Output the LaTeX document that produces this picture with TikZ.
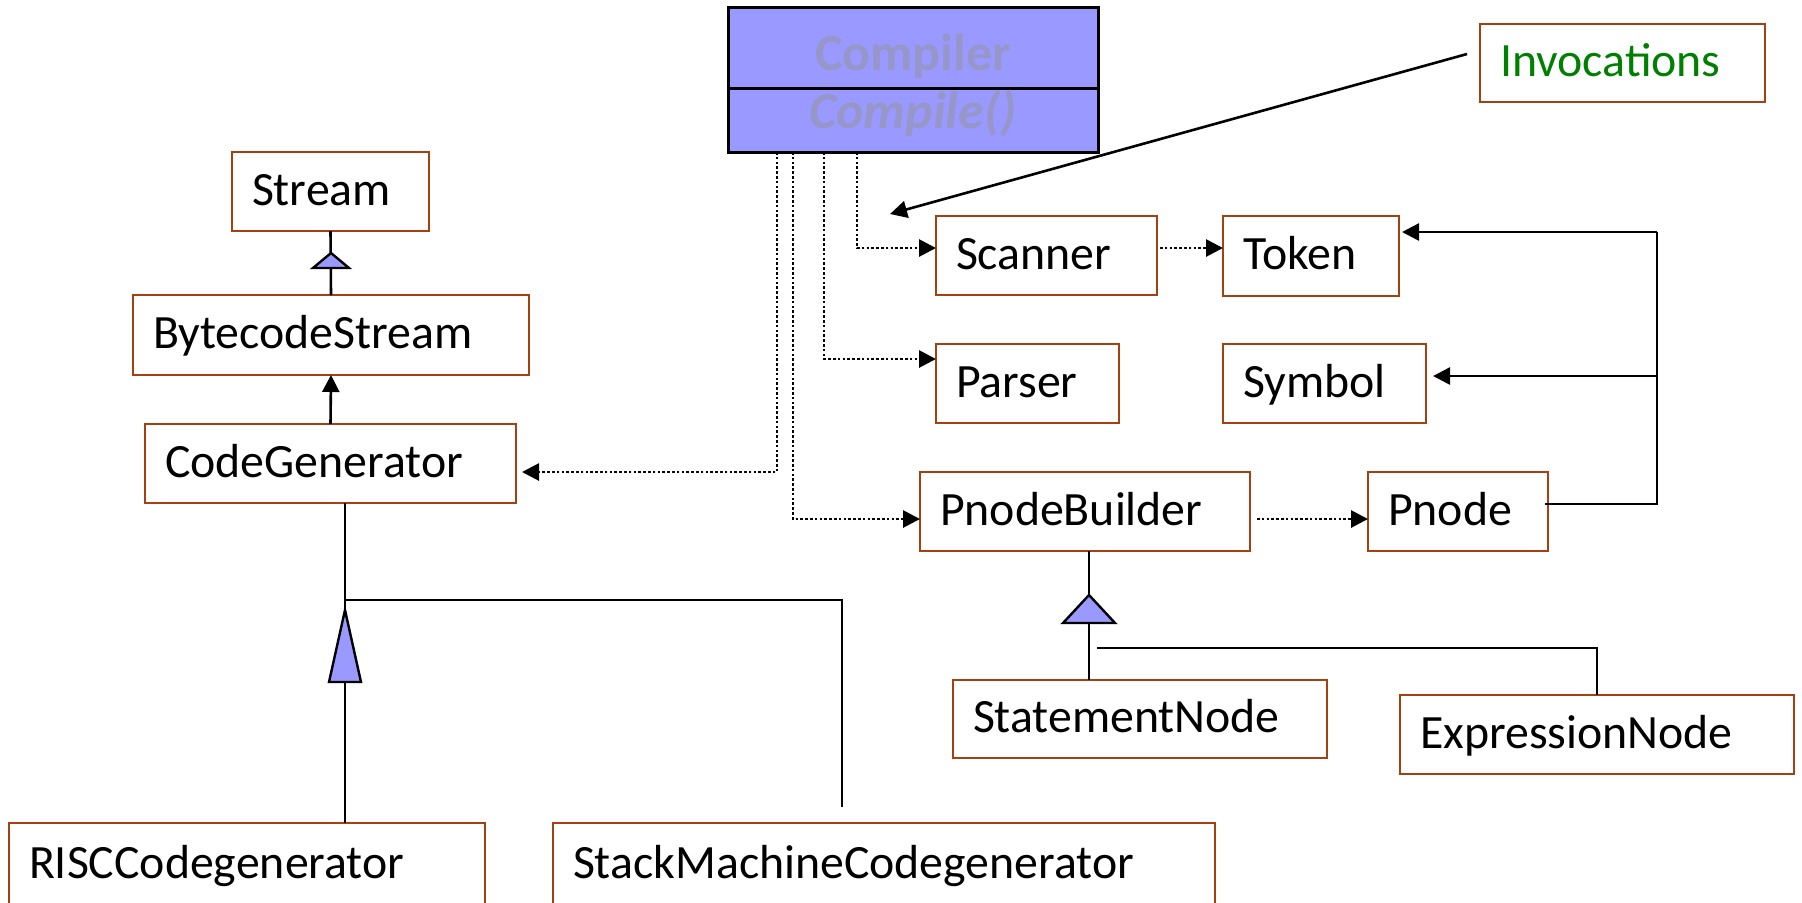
\documentclass[tikz,border=0pt]{standalone}
\usepackage{fontspec}
\setmainfont{Carlito}
\usetikzlibrary{arrows.meta,calc}
\definecolor{boxline}{RGB}{165,64,16}
\definecolor{umlfill}{RGB}{153,153,255}
\definecolor{ghost}{RGB}{150,150,200}
\definecolor{notegreen}{RGB}{0,128,0}
\tikzset{
  classbox/.style={draw=boxline, line width=1.2pt, fill=white, inner xsep=10pt, inner ysep=0pt,
    outer sep=0pt, align=left, text height=17pt, text depth=3.5pt,
    font=\fontsize{23.9}{28}\selectfont},
  link/.style={line width=1.3pt, black},
  tip/.style={-{Triangle[length=8.5pt,width=8.5pt]}},
  dep/.style={line width=1.4pt, black, dash pattern=on 1.3pt off 1.1pt, -{Triangle[length=8.5pt,width=8.5pt]}},
  gen/.style={fill=umlfill, draw=black, line width=1.2pt, line join=miter},
  ghosttext/.style={text=ghost, inner sep=0pt, font=\fontsize{26}{30}\selectfont\bfseries},
}
% class box given by its corners in pixel units: name, x1, y1, x2, y2, label
\newcommand\classnode[6]{%
  \pgfmathsetmacro\cbw{(#4-#2)*0.5-20}%
  \pgfmathsetmacro\cbh{(#5-#3)*0.5}%
  \node[classbox, text width=\cbw pt, minimum height=\cbh pt, anchor=north west] (#1) at (#2,#3) {#6};}
% generalisation triangle: apex x, apex y, half width, height
\newcommand\gentri[4]{%
  \draw[gen] (#1,#2) -- (#1-#3,#2+#4) -- (#1+#3,#2+#4) -- cycle;}

\begin{document}
\begin{tikzpicture}[x=0.5pt,y=-0.5pt]
\useasboundingbox (0,0) rectangle (1802,902);

% ---------- Compiler class ----------
\node[draw=black, line width=1.5pt, fill=umlfill, minimum width=185pt, minimum height=72.5pt,
      anchor=north west, inner sep=0pt, outer sep=0pt] (compiler) at (728,7) {};
\draw[line width=1.5pt] (compiler.west |- 0,88) -- (compiler.east |- 0,88);
\node[ghosttext, anchor=base] (cname) at (913,70) {Compiler};
\node[ghosttext, anchor=base] (cop) at (913,128) {\itshape Compile()};

% ---------- classes ----------
\classnode{stream}{232}{152}{429}{231}{Stream}
\classnode{bytecode}{133}{295}{529}{375}{BytecodeStream}
\classnode{codegen}{145}{424}{516}{503}{CodeGenerator}
\classnode{risc}{9}{823}{485}{906}{RISCCodegenerator}
\classnode{stack}{553}{823}{1215}{906}{StackMachineCodegenerator}
\classnode{scanner}{936}{216}{1157}{295}{Scanner}
\classnode{parser}{936}{344}{1119}{423}{Parser}
\classnode{pbuilder}{920}{472}{1250}{551}{PnodeBuilder}
\classnode{token}{1223}{216}{1399}{296}{Token}
\classnode{symbol}{1223}{344}{1426}{423}{Symbol}
\classnode{pnode}{1368}{472}{1548}{551}{Pnode}
\classnode{stmt}{953}{680}{1327}{758}{StatementNode}
\classnode{expr}{1400}{695}{1794}{774}{ExpressionNode}
\classnode{invoc}{1480}{24}{1765}{102}{\textcolor{notegreen}{Invocations}}

% ---------- stream hierarchy ----------
\draw[link] (bytecode.north) -- (stream.south);
\gentri{331}{253}{18}{15}
\draw[link, tip] (codegen.north) -- (bytecode.south);

% ---------- code generators ----------
\coordinate (cgfork) at (345,600);
\coordinate (smend) at (842,807);
\draw[link] (codegen.south -| cgfork) -- (risc.north -| cgfork);
\draw[link] (cgfork) -| (smend);
\gentri{345}{610}{16}{72}

% ---------- parse-tree nodes ----------
\coordinate (pbx) at (1089,0);
\coordinate (pbfork) at (1097,648);
\draw[link] (pbuilder.south -| pbx) -- (stmt.north -| pbx);
\draw[link] (pbfork) -| (expr.north);
\gentri{1089}{595}{26}{28}

% ---------- uses of the compiler ----------
\coordinate (t1) at (777,152);
\coordinate (t2) at (793,152);
\coordinate (t3) at (824,152);
\coordinate (t4) at (857,152);
\draw[dep] (t4) |- ($(scanner.west)+(0,-7.5)$);
\draw[dep] (t3) |- ($(parser.west)+(0,-24.5)$);
\draw[dep] (t2) |- ($(pbuilder.west)+(0,7.5)$);
\draw[dep, shorten >=3pt] (t1) |- ($(codegen.east)+(0,8.5)$);
\draw[dep] ($(scanner.east)+(3,-7.5)$) -- ($(token.west)+(0,-8)$);
\draw[dep] ($(pbuilder.east)+(7,7.5)$) -- ($(pnode.west)+(0,7.5)$);

% ---------- Pnode references ----------
\coordinate (busTop) at (1657,232);
\coordinate (busMid) at (1657,376);
\coordinate (busBot) at (1657,504);
\draw[link] ($(pnode.east)+(-3,-7.5)$) -- (busBot) -- (busTop);
\draw[link, tip, shorten >=1.5pt] (busTop) -- (token.east |- busTop);
\draw[link, tip, shorten >=3.5pt] (busMid) -- (symbol.east |- busMid);

% ---------- note ----------
\coordinate (invtip) at (890,214);
\draw[link, tip] ($(invoc.west)+(-13,-9)$) -- (invtip);
\end{tikzpicture}
\end{document}
